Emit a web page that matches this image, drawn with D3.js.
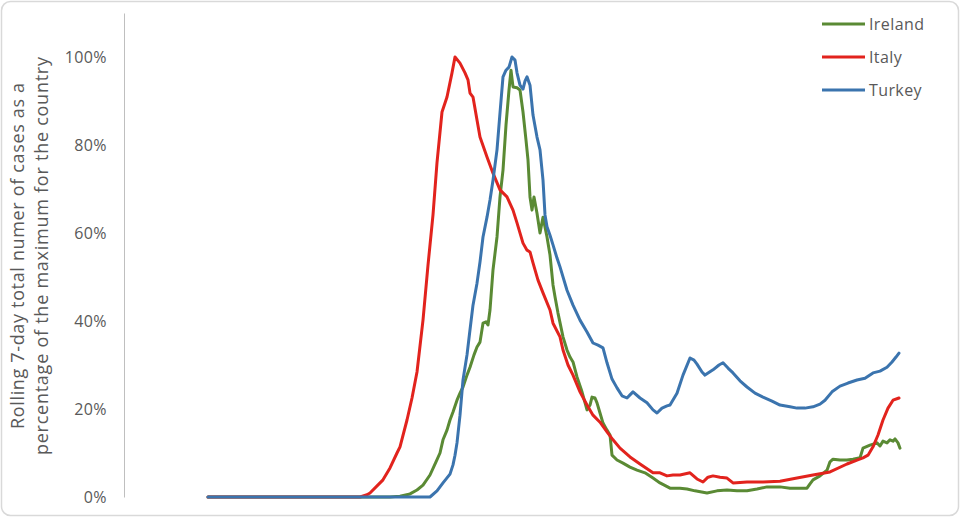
<!DOCTYPE html>
<html>
<head>
<meta charset="utf-8">
<script src="https://cdn.jsdelivr.net/npm/d3@7"></script>
<style>
  html, body { margin: 0; padding: 0; background: #fff; }
  svg { display: block; }
</style>
</head>
<body>
<svg id="chart" width="961" height="518"></svg>
<script>
// ---- data (day index since start of series, share of country maximum in %) ----
const seriesNames = ["Ireland", "Italy", "Turkey"];
const yTickValues = [0, 20, 40, 60, 80, 100];
const yAxisTitle = ["Rolling 7-day total numer of cases as a", "percentage of the maximum for the country"];

const irelandDays = [0,91,96,101,104.5,107.5,111,114,116,117.5,119.5,121,122.5,124.5,126,127.5,129.5,131,133,134.5,136,137.5,139,140,141,142.5,144.5,146,147.5,149,150.5,151.5,152.5,154.5,156,157.5,159,160,161,162,163,164.5,166,167.5,169.5,171,172.5,173.5,175,177.5,179.5,181,182.5,184.5,187,189.5,191,192,193.5,194.5,196,197.5,199.5,201,202,204.5,207.5,211,214.5,218.5,222.5,226,231,236,239.5,243.5,249.5,254.5,259.5,264.5,269.5,274.5,279.5,286,291,296,299.5,301,302.5,306,309.5,311,312.5,316,319.5,322.5,326,327.5,331,334.5,336,337.5,339.5,341,342.5,343.5,345,346];
const irelandValues = [0,0,0.2,0.7,1.6,2.7,5,8,10,13,15.2,17.5,19.3,22,23.6,25,27.7,29.5,32.3,34.1,35.2,39.5,39.8,39.1,42.5,51.6,59.1,68.2,74.3,84.5,92.5,97,93.2,93,92.5,87.5,81.1,76.6,68.2,65.2,68.2,64.5,60,63.6,59.1,55,48.2,45.5,41.8,36.4,33.4,31.8,30.7,27.3,23.9,19.8,20.9,22.7,22.5,21.4,19.1,16.8,15.2,14.1,9.5,8.4,7.7,6.8,6.1,5.5,4.3,3.2,2,2,1.8,1.4,0.9,1.4,1.6,1.4,1.4,1.8,2.3,2.3,2,2,2,3,3.9,4.8,6.1,8,8.6,8.4,8.4,8.6,8.9,11.1,11.8,12.3,11.6,12.7,12.3,13,12.7,13.2,12.3,11.1];

const italyDays = [0,76,79.5,81,87.5,91,94.5,96,99.5,102,104.5,107.5,110,112.5,114.5,117,119.5,122,123.5,126,128.5,130,131,132.5,134.5,136,139.5,142.5,146,149.5,152.5,154.5,157.5,159.5,161,162.5,165,167.5,171,172.5,176,177.5,180,182.5,186,189.5,192.5,196,199.5,202.5,206,211,216,222.5,226,229.5,232.5,236,241,244.5,247.5,250,252.5,256,259.5,262.5,269.5,277.5,286,294.5,302.5,311,319.5,324.5,327.5,330,332.5,335,337.5,340,342.5,345.5];
const italyValues = [0,0,0.5,0.9,3.9,6.6,10,11.4,17.5,22.5,28.4,40.2,52.7,64.1,76,87.5,90.9,96.4,100,98.6,96.4,94.8,91.8,90.9,85.7,81.8,77.3,73.6,69.8,68.2,65.2,62.3,57.7,56.1,55.7,53.2,49.3,46.4,42.5,39.5,36.4,33.4,30,27.7,23.9,20.9,18.6,17,14.8,13,11.1,9.1,7.5,5.5,5.5,4.8,5,5,5.5,4.1,3.4,4.5,4.8,4.5,4.3,3.2,3.4,3.4,3.6,4.3,5,5.7,7.5,8.4,8.9,9.5,11.4,14.1,17.5,20.2,22,22.5];

const turkeyDays = [0,111,114.5,117.5,121,122.5,123.5,124.5,126,127.5,129.5,131,132.5,134.5,136,137.5,139.5,141,142.5,144.5,146,147.5,149,150.5,152,153.5,154.5,156,157.5,158.5,159.5,161,162.5,164.5,166,167.5,168.5,169.5,171,172.5,174.5,176,179.5,182.5,186,189.5,192.5,195,197.5,199.5,202,204.5,207,209.5,211,212.5,216,219.5,222.5,224.5,227,229.5,231,234.5,237.5,241,243,244.5,247,248.5,252.5,255.5,257.5,260,262.5,266,269.5,273.5,277.5,282,286,291,294.5,298.5,302.5,306,308.5,312,316,320,324.5,328.5,332.5,336,339.5,342,344,345.5];
const turkeyValues = [0,0,1.4,3.2,5.2,7.3,9.5,12.3,18.6,26.6,32.3,38,43.6,48.6,53.4,59.1,63.6,67.5,72,78.9,87.3,95.5,97,97.7,100,99.3,96.4,93.6,92.7,94.5,95.5,93.6,86.8,81.8,78.9,72,64.1,61.4,59.5,57.3,54.3,52.3,47,43.6,40.2,37.5,35,34.5,33.9,30.5,26.8,24.8,23,22.5,23.2,23.9,22.5,21.4,19.8,19.1,20.2,20.7,20.9,23.6,27.7,31.6,31.1,30.2,28.4,27.7,28.9,30,30.5,29.3,28.2,26.4,25,23.6,22.7,21.8,20.9,20.5,20.2,20.2,20.5,21.1,22,23.9,25.2,25.9,26.6,27,28.2,28.6,29.5,30.7,31.8,32.7];

const seriesColors = ["#5a8a34", "#e2231d", "#3b74ae"];

// ---- drawing ----
const svg = d3.select("#chart");
const fontFam = "'Open Sans', 'Liberation Sans', sans-serif";
const textColor = "#595959";

svg.append("rect")
  .attr("x", 1.5).attr("y", 1.5).attr("width", 957).attr("height", 514)
  .attr("rx", 9).attr("ry", 9)
  .attr("fill", "#fff").attr("stroke", "#d9d9d9").attr("stroke-width", 1.5);

const x = d3.scaleLinear().domain([0, 347]).range([208, 902]);
const y = d3.scaleLinear().domain([0, 110]).range([497, 13]);

const yAxis = d3.axisLeft(y)
  .tickValues(yTickValues)
  .tickSize(0)
  .tickPadding(17)
  .tickFormat(d => d + "%");

const gy = svg.append("g").attr("transform", "translate(124,0)").call(yAxis);
gy.select(".domain").attr("stroke", "#bfbfbf").attr("stroke-width", 1);
gy.selectAll("text")
  .attr("fill", textColor)
  .style("font-family", fontFam)
  .style("font-size", "16px")
  .attr("letter-spacing", "0.4px");

const title = svg.append("text")
  .attr("transform", "translate(30,256) rotate(-90)")
  .attr("text-anchor", "middle")
  .attr("fill", textColor)
  .style("font-family", fontFam)
  .style("font-size", "18px");
title.append("tspan").attr("x", 0).attr("y", -6)
  .attr("textLength", 346).attr("lengthAdjust", "spacing").text(yAxisTitle[0]);
title.append("tspan").attr("x", 0).attr("y", 18)
  .attr("textLength", 398).attr("lengthAdjust", "spacing").text(yAxisTitle[1]);

const seriesData = [
  d3.zip(irelandDays, irelandValues),
  d3.zip(italyDays, italyValues),
  d3.zip(turkeyDays, turkeyValues)
];

const line = d3.line().x(d => x(d[0])).y(d => y(d[1]));

seriesData.forEach((data, i) => {
  svg.append("path")
    .datum(data)
    .attr("d", line)
    .attr("fill", "none")
    .attr("stroke", seriesColors[i])
    .attr("stroke-width", 3)
    .attr("stroke-linejoin", "round")
    .attr("stroke-linecap", "round");
});

// legend
const legend = svg.append("g");
seriesNames.forEach((name, i) => {
  const gy0 = 24 + i * 33;
  legend.append("line")
    .attr("x1", 822).attr("x2", 865)
    .attr("y1", gy0).attr("y2", gy0)
    .attr("stroke", seriesColors[i]).attr("stroke-width", 3);
  legend.append("text")
    .attr("x", 869).attr("y", gy0)
    .attr("dy", "0.35em")
    .attr("fill", textColor)
    .style("font-family", fontFam)
    .style("font-size", "16px")
    .attr("letter-spacing", "0.4px")
    .text(name);
});
</script>
</body>
</html>
